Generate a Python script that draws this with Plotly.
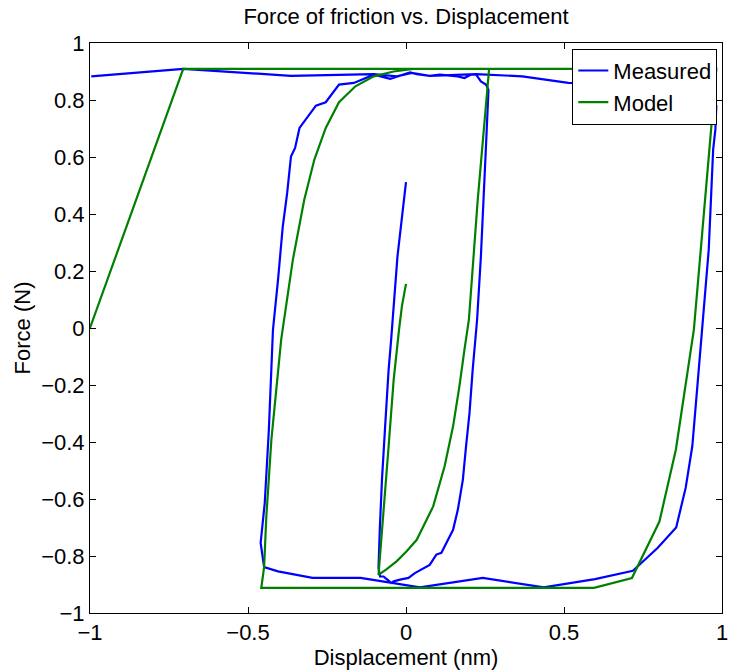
import plotly.graph_objects as go

# Measured friction loop (displacement in nm, force in N)
measured_x = [
    0.000, -0.013, -0.027, -0.047, -0.055, -0.066, -0.076, -0.083, -0.087,
    -0.082, -0.071, -0.066, -0.055, -0.048, -0.039, -0.019, 0.008, 0.028, 0.055,
    0.075, 0.096, 0.112, 0.133, 0.149, 0.164, 0.180, 0.190, 0.201, 0.211, 0.219,
    0.225, 0.237, 0.246, 0.255, 0.261,
    0.253, 0.237, 0.222,
    0.206, 0.185, 0.164, 0.138, 0.107, 0.075, 0.034, 0.013, -0.050, -0.102,
    -0.165, -0.212, -0.254, -0.285, -0.337, -0.351, -0.364, -0.376, -0.390,
    -0.405, -0.421, -0.434, -0.447, -0.460, -0.452, -0.449,
    -0.405, -0.296, -0.144, -0.045, 0.044, 0.243, 0.436, 0.598, 0.718, 0.796,
    0.855, 0.885, 0.906, 0.922, 0.940, 0.958, 0.972, 0.979, 0.982,
    0.900, 0.700, 0.514, 0.368, 0.222, 0.075, 0.018, -0.029, -0.102, -0.364,
    -0.705, -0.996,
]
measured_y = [
    0.512, 0.392, 0.251, -0.041, -0.146, -0.345, -0.532, -0.708, -0.842,
    -0.872, -0.872, -0.877, -0.886, -0.895, -0.889, -0.883, -0.877, -0.860, -0.842,
    -0.831, -0.795, -0.789, -0.743, -0.708, -0.638, -0.532, -0.415, -0.298, -0.146, -0.029,
    0.029, 0.251, 0.450, 0.684, 0.836,
    0.854, 0.865, 0.889,
    0.889, 0.877, 0.883, 0.885, 0.889, 0.885, 0.891, 0.897, 0.874, 0.889,
    0.860, 0.854, 0.792, 0.780, 0.702, 0.632, 0.602, 0.474, 0.356,
    0.169, -0.006, -0.357, -0.614, -0.754, -0.813, -0.839,
    -0.854, -0.877, -0.877, -0.895, -0.910, -0.877, -0.910, -0.881, -0.852, -0.772,
    -0.700, -0.561, -0.415, -0.205, 0.029, 0.275, 0.626, 0.696, 0.780,
    0.845, 0.855, 0.860, 0.883, 0.891, 0.885, 0.895, 0.883, 0.891, 0.885,
    0.909, 0.883,
]

# Model friction loop
model_x = [
    0.000, -0.013, -0.022, -0.039, -0.055, -0.071, -0.087,
    -0.061, -0.029, 0.002, 0.034, 0.086, 0.122, 0.149, 0.169, 0.185, 0.199, 0.227, 0.263,
    0.023, -0.039, -0.102, -0.160, -0.212, -0.254, -0.290, -0.322, -0.358,
    -0.395, -0.426, -0.442, -0.449, -0.458,
    0.595, 0.715, 0.802, 0.854, 0.911, 0.982,
    -0.705, -1.000,
]
model_y = [
    0.155, 0.076, -0.006, -0.181, -0.415, -0.649, -0.866,
    -0.846, -0.818, -0.783, -0.743, -0.626, -0.486, -0.345, -0.205, -0.076, 0.029, 0.450, 0.909,
    0.909, 0.900, 0.883, 0.848, 0.792, 0.702, 0.591, 0.450, 0.240,
    -0.041, -0.392, -0.661, -0.839, -0.912,
    -0.912, -0.877, -0.679, -0.427, -0.006, 0.909,
    0.909, 0.000,
]

x_ticks = [-1, -0.5, 0, 0.5, 1]
x_tick_text = ["\u22121", "\u22120.5", "0", "0.5", "1"]
y_ticks = [-1, -0.8, -0.6, -0.4, -0.2, 0, 0.2, 0.4, 0.6, 0.8, 1]
y_tick_text = ["\u22121", "\u22120.8", "\u22120.6", "\u22120.4", "\u22120.2", "0",
               "0.2", "0.4", "0.6", "0.8", "1"]

FONT = "Liberation Sans, Arial, Helvetica, sans-serif"
FS = 22

fig = go.Figure()
fig.add_trace(go.Scatter(x=measured_x, y=measured_y, mode="lines", name="Measured",
                         line=dict(color="rgb(0,0,255)", width=2.2)))
fig.add_trace(go.Scatter(x=model_x, y=model_y, mode="lines", name="Model",
                         line=dict(color="rgb(0,128,0)", width=2.2)))

axis_style = dict(
    showline=True, linecolor="black", linewidth=1, mirror="ticks",
    ticks="inside", ticklen=6, tickcolor="black", tickwidth=1,
    showgrid=False, zeroline=False, ticklabeloverflow="allow",
    tickfont=dict(family=FONT, size=FS, color="black"),
)

fig.update_layout(
    width=734, height=671,
    margin=dict(l=90, r=6, t=43, b=58),
    paper_bgcolor="white", plot_bgcolor="white",
    font=dict(family=FONT, size=FS, color="black"),
    title=dict(text="Force of friction vs. Displacement", x=0.5, xref="paper",
               xanchor="center", y=0.976, yanchor="middle",
               font=dict(family=FONT, size=FS, color="black")),
    xaxis=dict(range=[-1, 1], tickvals=x_ticks, ticktext=x_tick_text,
               title=dict(text="Displacement (nm)", standoff=0,
                          font=dict(family=FONT, size=FS)),
               **axis_style),
    yaxis=dict(range=[-1, 1], tickvals=y_ticks, ticktext=y_tick_text,
               title=dict(text="Force (N)", standoff=4,
                          font=dict(family=FONT, size=FS)),
               **axis_style),
    legend=dict(x=0.9926, y=0.990, xanchor="right", yanchor="top",
                bgcolor="white", bordercolor="black", borderwidth=1,
                font=dict(family=FONT, size=FS, color="black"),
                tracegroupgap=0),
    showlegend=True,
)

fig.write_html("out.html")
